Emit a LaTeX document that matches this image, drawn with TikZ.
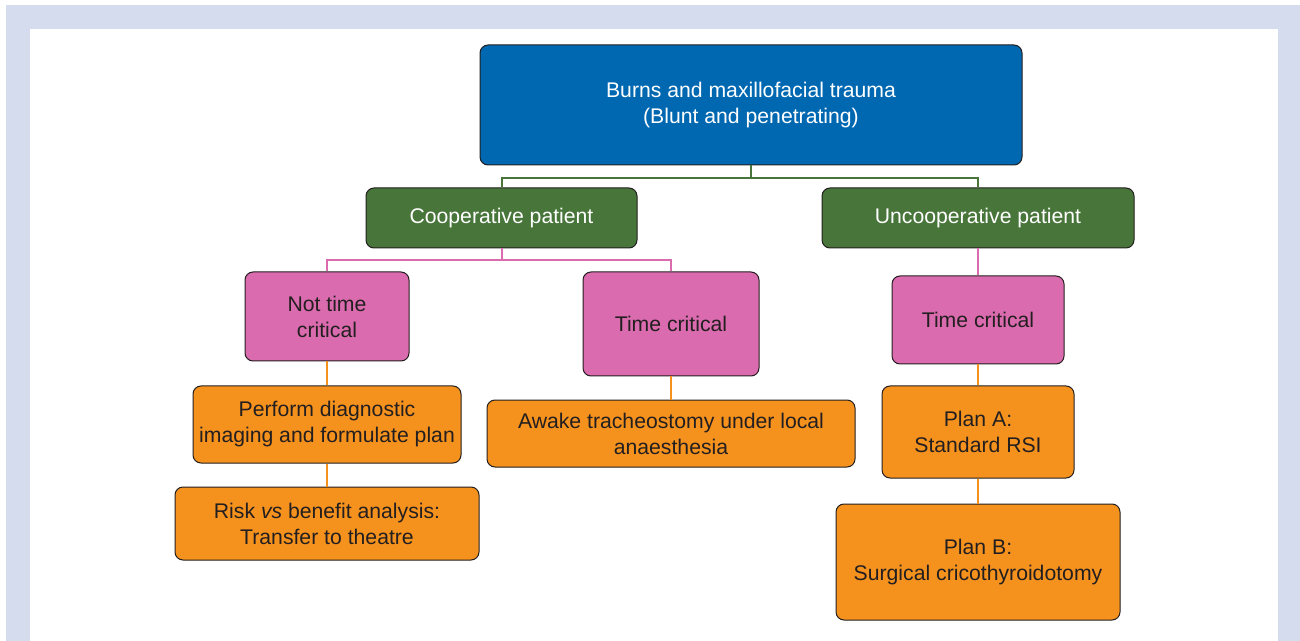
\documentclass[tikz,border=0pt]{standalone}
\usepackage{fontspec}
\setmainfont{Liberation Sans}
\usepackage{tikz}
\definecolor{frameblue}{HTML}{D4DCEE}
\definecolor{topblue}{HTML}{0067B1}
\definecolor{leafgreen}{HTML}{48763A}
\definecolor{pinkbox}{HTML}{DA6BAE}
\definecolor{orangebox}{HTML}{F5921E}
\definecolor{inkgray}{HTML}{231F20}
\tikzset{
  box/.style={draw=inkgray, line width=0.5pt, rounded corners=4pt, align=center,
    inner sep=0pt, font=\fontsize{10.6}{13}\selectfont},
  bluebox/.style={box, fill=topblue, text=white},
  greenbox/.style={box, fill=leafgreen, text=white},
  pinkbx/.style={box, fill=pinkbox, text=inkgray},
  orangebx/.style={box, fill=orangebox, text=inkgray},
  gline/.style={draw=leafgreen, line width=1pt},
  pline/.style={draw=pinkbox, line width=1pt},
  oline/.style={draw=orangebox, line width=1pt}
}

\begin{document}
\begin{tikzpicture}[x=0.5pt,y=-0.5pt]
    \useasboundingbox (0,0) rectangle (1300,641);
    \fill[frameblue] (6,5) rectangle (1300,641);
    \fill[white] (30,29) rectangle (1278,641);

    \node[bluebox, minimum width=271pt, minimum height=60pt] (burns) at (751,105) {Burns and maxillofacial trauma\\(Blunt and penetrating)};
    \node[greenbox, minimum width=135.5pt, minimum height=30pt] (coop) at (501.5,218) {Cooperative patient};
    \node[greenbox, minimum width=156pt, minimum height=30pt] (uncoop) at (978,218) {Uncooperative patient};
    \node[pinkbx, minimum width=82pt, minimum height=44.5pt] (ntc) at (327,316.5) {Not time\\critical};
    \node[pinkbx, minimum width=88pt, minimum height=52pt] (tcmid) at (671,324) {Time critical};
    \node[pinkbx, minimum width=86pt, minimum height=44pt] (tcright) at (978,320) {Time critical};
    \node[orangebx, minimum width=134pt, minimum height=38.5pt] (imaging) at (327,424.5) {Perform diagnostic\\imaging and formulate plan};
    \node[orangebx, minimum width=152pt, minimum height=36.5pt] (risk) at (327,523.5) {Risk \textit{vs} benefit analysis:\\Transfer to theatre};
    \node[orangebx, minimum width=184pt, minimum height=33.5pt] (awake) at (671,433.5) {Awake tracheostomy under local\\anaesthesia};
    \node[orangebx, minimum width=96pt, minimum height=46pt] (plana) at (978,432) {Plan A:\\Standard RSI};
    \node[orangebx, minimum width=142pt, minimum height=58pt] (planb) at (978,562) {Plan B:\\Surgical cricothyroidotomy};

    \coordinate (j1) at (751,178);
    \coordinate (j2) at (501.5,260);

    % first split
    \draw[gline] (burns.south) -- (j1);
    \draw[gline] (coop.north) |- (j1) -| (uncoop.north);
    % cooperative branch
    \draw[pline] (coop.south) -- (j2);
    \draw[pline] (ntc.north) |- (j2) -| (tcmid.north);
    \draw[pline] (uncoop.south) -- (tcright.north);
    % actions
    \draw[oline] (ntc.south) -- (imaging.north);
    \draw[oline] (imaging.south) -- (risk.north);
    \draw[oline] (tcmid.south) -- (awake.north);
    \draw[oline] (tcright.south) -- (plana.north);
    \draw[oline] (plana.south) -- (planb.north);
\end{tikzpicture}
\end{document}
